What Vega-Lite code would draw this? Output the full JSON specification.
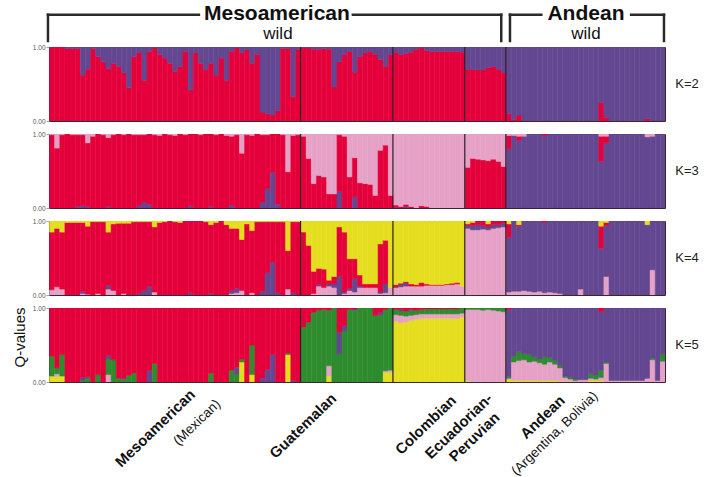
{
  "$schema": "https://vega.github.io/schema/vega-lite/v6.json",
  "padding": {"left": 11, "top": 3, "right": 5, "bottom": 0},
  "background": "white",
  "config": {
    "font": "Liberation Sans",
    "view": {"stroke": "#3a2530", "strokeWidth": 1}
  },
  "datasets": {
    "q": [
      {"i":0,"a2":1,"b3":0.99,"c3":0.01,"a4":0.07,"c4":0.78,"d4":0.15,"a5":0.08,"c5":0.27,"e5":0.65},
      {"i":1,"a2":1,"b3":0.81,"c3":0.19,"a4":0.11,"c4":0.79,"d4":0.1,"a5":0.07,"b5":0.04,"c5":0.08,"e5":0.81},
      {"i":2,"a2":1,"b3":0.99,"c3":0.01,"a4":0.08,"c4":0.77,"d4":0.15,"a5":0.08,"c5":0.29,"e5":0.63},
      {"i":3,"a2":0.98,"b2":0.02,"b3":1,"c4":0.98,"d4":0.02,"e5":1},
      {"i":4,"a2":0.98,"b2":0.02,"b3":0.99,"c3":0.01,"c4":0.98,"d4":0.02,"e5":1},
      {"i":5,"a2":0.98,"b2":0.02,"a3":0.02,"b3":0.97,"c3":0.01,"c4":0.98,"d4":0.02,"e5":1},
      {"i":6,"a2":0.62,"b2":0.38,"a3":0.03,"b3":0.96,"c3":0.01,"a4":0.02,"b4":0.03,"c4":0.93,"d4":0.02,"c5":0.02,"d5":0.04,"e5":0.94},
      {"i":7,"a2":0.7,"b2":0.3,"a3":0.02,"b3":0.86,"c3":0.12,"a4":0.01,"c4":0.92,"d4":0.07,"c5":0.05,"d5":0.02,"e5":0.93},
      {"i":8,"a2":0.98,"b2":0.02,"b3":0.97,"c3":0.03,"c4":0.99,"d4":0.01,"e5":1},
      {"i":9,"a2":0.87,"b2":0.13,"b3":1,"a4":0.02,"c4":0.97,"d4":0.01,"c5":0.1,"e5":0.9},
      {"i":10,"a2":0.8,"b2":0.2,"b3":0.99,"c3":0.01,"c4":0.99,"d4":0.01,"e5":1},
      {"i":11,"a2":0.71,"b2":0.29,"a3":0.02,"b3":0.93,"c3":0.05,"a4":0.08,"b4":0.05,"c4":0.72,"d4":0.15,"b5":0.1,"c5":0.21,"d5":0.05,"e5":0.64},
      {"i":12,"a2":0.78,"b2":0.22,"b3":0.99,"c3":0.01,"a4":0.06,"c4":0.9,"d4":0.04,"c5":0.3,"e5":0.7},
      {"i":13,"a2":0.74,"b2":0.26,"b3":1,"c4":0.97,"d4":0.03,"c5":0.05,"e5":0.95},
      {"i":14,"a2":0.65,"b2":0.35,"b3":0.99,"c3":0.01,"a4":0.02,"c4":0.95,"d4":0.03,"c5":0.03,"d5":0.02,"e5":0.95},
      {"i":15,"a2":0.45,"b2":0.55,"b3":1,"c4":0.97,"d4":0.03,"c5":0.09,"e5":0.91},
      {"i":16,"a2":0.87,"b2":0.13,"b3":0.99,"c3":0.01,"c4":0.99,"d4":0.01,"c5":0.12,"e5":0.88},
      {"i":17,"a2":0.92,"b2":0.08,"a3":0.03,"b3":0.96,"c3":0.01,"b4":0.02,"c4":0.97,"d4":0.01,"e5":1},
      {"i":18,"a2":0.55,"b2":0.45,"a3":0.08,"b3":0.91,"c3":0.01,"b4":0.06,"c4":0.93,"d4":0.01,"e5":1},
      {"i":19,"a2":0.94,"b2":0.06,"a3":0.05,"b3":0.95,"b4":0.12,"c4":0.87,"d4":0.01,"d5":0.16,"e5":0.84},
      {"i":20,"a2":0.99,"b2":0.01,"b3":0.99,"c3":0.01,"a4":0.04,"c4":0.88,"d4":0.08,"c5":0.25,"e5":0.75},
      {"i":21,"a2":0.9,"b2":0.1,"b3":0.98,"c3":0.02,"c4":0.98,"d4":0.02,"e5":1},
      {"i":22,"a2":0.85,"b2":0.15,"b3":1,"c4":0.99,"d4":0.01,"e5":1},
      {"i":23,"a2":0.78,"b2":0.22,"b3":0.99,"c3":0.01,"c4":1,"e5":1},
      {"i":24,"a2":0.67,"b2":0.33,"b3":0.98,"c3":0.02,"c4":0.99,"d4":0.01,"e5":1},
      {"i":25,"a2":0.74,"b2":0.26,"b3":1,"c4":0.98,"d4":0.02,"e5":1},
      {"i":26,"a2":0.94,"b2":0.06,"b3":0.99,"c3":0.01,"c4":1,"e5":1},
      {"i":27,"a2":0.42,"b2":0.58,"a3":0.03,"b3":0.97,"b4":0.03,"c4":0.97,"e5":1},
      {"i":28,"a2":0.92,"b2":0.08,"b3":1,"c4":1,"e5":1},
      {"i":29,"a2":0.78,"b2":0.22,"b3":0.99,"c3":0.01,"c4":1,"e5":1},
      {"i":30,"a2":0.69,"b2":0.31,"b3":1,"c4":0.99,"d4":0.01,"e5":1},
      {"i":31,"a2":0.78,"b2":0.22,"a3":0.02,"b3":0.98,"b4":0.02,"c4":0.93,"d4":0.05,"c5":0.12,"e5":0.88},
      {"i":32,"a2":0.62,"b2":0.38,"b3":0.99,"c3":0.01,"c4":0.98,"d4":0.02,"e5":1},
      {"i":33,"a2":0.85,"b2":0.15,"b3":1,"c4":1,"e5":1},
      {"i":34,"a2":0.55,"b2":0.45,"b3":0.98,"c3":0.02,"c4":0.95,"d4":0.05,"e5":1},
      {"i":35,"a2":0.94,"b2":0.06,"a3":0.04,"b3":0.93,"c3":0.03,"a4":0.02,"b4":0.04,"c4":0.84,"d4":0.1,"c5":0.16,"e5":0.84},
      {"i":36,"a2":0.99,"b2":0.01,"b3":0.99,"c3":0.01,"a4":0.03,"b4":0.06,"c4":0.81,"d4":0.1,"c5":0.1,"d5":0.1,"e5":0.8},
      {"i":37,"a2":0.92,"b2":0.08,"b3":0.74,"c3":0.26,"a4":0.06,"c4":0.69,"d4":0.25,"a5":0.27,"c5":0.04,"e5":0.69},
      {"i":38,"a2":0.96,"b2":0.04,"b3":0.99,"c3":0.01,"c4":0.96,"d4":0.04,"e5":1},
      {"i":39,"a2":0.78,"b2":0.22,"b3":0.98,"c3":0.02,"a4":0.03,"c4":0.84,"d4":0.13,"a5":0.1,"c5":0.4,"e5":0.5},
      {"i":40,"a2":0.9,"b2":0.1,"b3":1,"c4":0.99,"d4":0.01,"e5":1},
      {"i":41,"a2":0.12,"b2":0.88,"a3":0.08,"b3":0.91,"c3":0.01,"b4":0.05,"c4":0.94,"d4":0.01,"d5":0.05,"e5":0.95},
      {"i":42,"a2":0.1,"b2":0.9,"a3":0.26,"b3":0.73,"c3":0.01,"b4":0.3,"c4":0.69,"d4":0.01,"d5":0.17,"e5":0.83},
      {"i":43,"a2":0.08,"b2":0.92,"a3":0.48,"b3":0.52,"b4":0.44,"c4":0.55,"d4":0.01,"d5":0.37,"e5":0.63},
      {"i":44,"a2":0.14,"b2":0.86,"a3":0.05,"b3":0.95,"b4":0.03,"c4":0.96,"d4":0.01,"e5":1},
      {"i":45,"a2":0.98,"b2":0.02,"b3":0.99,"c3":0.01,"c4":0.99,"d4":0.01,"e5":1},
      {"i":46,"a2":0.98,"b2":0.02,"b3":0.49,"c3":0.51,"a4":0.08,"c4":0.52,"d4":0.4,"a5":0.37,"c5":0.02,"e5":0.61},
      {"i":47,"a2":0.33,"b2":0.67,"b3":0.98,"c3":0.02,"b4":0.03,"c4":0.96,"d4":0.01,"d5":0.02,"e5":0.98},
      {"i":48,"a2":0.97,"b2":0.03,"b3":0.99,"c3":0.01,"c4":0.99,"d4":0.01,"e5":1},
      {"i":49,"a2":0.99,"b2":0.01,"b3":0.97,"c3":0.03,"c4":0.85,"d4":0.15,"c5":0.74,"e5":0.26},
      {"i":50,"a2":0.99,"b2":0.01,"b3":0.67,"c3":0.33,"c4":0.67,"d4":0.33,"c5":0.81,"e5":0.19},
      {"i":51,"a2":0.97,"b2":0.03,"b3":0.33,"c3":0.67,"a4":0.02,"c4":0.3,"d4":0.68,"c5":0.94,"e5":0.06},
      {"i":52,"a2":0.97,"b2":0.03,"b3":0.44,"c3":0.56,"a4":0.12,"b4":0.02,"c4":0.22,"d4":0.64,"c5":0.97,"e5":0.03},
      {"i":53,"a2":0.98,"b2":0.02,"b3":0.42,"c3":0.58,"a4":0.1,"c4":0.25,"d4":0.65,"c5":0.98,"e5":0.02},
      {"i":54,"a2":0.97,"b2":0.03,"b3":0.19,"c3":0.81,"a4":0.12,"b4":0.03,"c4":0.05,"d4":0.8,"a5":0.08,"b5":0.14,"c5":0.75,"e5":0.03},
      {"i":55,"a2":0.46,"b2":0.54,"b3":0.19,"c3":0.81,"a4":0.1,"b4":0.05,"c4":0.1,"d4":0.75,"c5":1},
      {"i":56,"a2":0.8,"b2":0.2,"a3":0.22,"b3":0.77,"c3":0.01,"b4":0.25,"c4":0.67,"d4":0.08,"c5":0.38,"d5":0.29,"e5":0.33},
      {"i":57,"a2":0.9,"b2":0.1,"b3":0.97,"c3":0.03,"a4":0.02,"b4":0.02,"c4":0.81,"d4":0.15,"c5":0.69,"d5":0.07,"e5":0.24},
      {"i":58,"a2":0.94,"b2":0.06,"b3":0.42,"c3":0.58,"a4":0.06,"b4":0.03,"c4":0.4,"d4":0.51,"c5":0.98,"e5":0.02},
      {"i":59,"a2":0.66,"b2":0.34,"a3":0.15,"b3":0.53,"c3":0.32,"a4":0.04,"b4":0.18,"c4":0.27,"d4":0.51,"c5":0.97,"d5":0.02,"e5":0.01},
      {"i":60,"a2":0.87,"b2":0.13,"b3":0.34,"c3":0.66,"a4":0.1,"b4":0.02,"c4":0.15,"d4":0.73,"c5":1},
      {"i":61,"a2":0.92,"b2":0.08,"b3":0.33,"c3":0.67,"a4":0.1,"c4":0.05,"d4":0.85,"c5":1},
      {"i":62,"a2":0.94,"b2":0.06,"b3":0.32,"c3":0.68,"a4":0.1,"c4":0.05,"d4":0.85,"c5":1},
      {"i":63,"a2":0.9,"b2":0.1,"b3":0.17,"c3":0.83,"a4":0.1,"c4":0.05,"d4":0.85,"c5":0.9,"e5":0.1},
      {"i":64,"a2":0.83,"b2":0.17,"b3":0.78,"c3":0.22,"a4":0.02,"b4":0.02,"c4":0.65,"d4":0.31,"c5":0.9,"d5":0.04,"e5":0.06},
      {"i":65,"a2":0.74,"b2":0.26,"b3":0.85,"c3":0.15,"a4":0.03,"b4":0.12,"c4":0.59,"d4":0.26,"a5":0.13,"b5":0.02,"c5":0.83,"e5":0.02},
      {"i":66,"a2":0.9,"b2":0.1,"b3":0.17,"c3":0.83,"a4":0.1,"d4":0.9,"a5":0.13,"b5":0.03,"c5":0.84},
      {"i":67,"a2":0.93,"b2":0.07,"a3":0.01,"b3":0.03,"c3":0.96,"a4":0.1,"b4":0.01,"c4":0.03,"d4":0.86,"a5":0.82,"b5":0.09,"c5":0.07,"e5":0.02},
      {"i":68,"a2":0.9,"b2":0.1,"b3":0.02,"c3":0.98,"a4":0.11,"b4":0.03,"c4":0.02,"d4":0.84,"a5":0.8,"b5":0.1,"c5":0.06,"d5":0.02,"e5":0.02},
      {"i":69,"a2":0.91,"b2":0.09,"a3":0.02,"b3":0.03,"c3":0.95,"a4":0.12,"b4":0.04,"c4":0.02,"d4":0.82,"a5":0.81,"b5":0.08,"c5":0.07,"e5":0.04},
      {"i":70,"a2":0.93,"b2":0.07,"b3":0.02,"c3":0.98,"a4":0.12,"c4":0.03,"d4":0.85,"a5":0.83,"b5":0.07,"c5":0.07,"d5":0.01,"e5":0.02},
      {"i":71,"a2":0.97,"b2":0.03,"c3":1,"a4":0.12,"c4":0.02,"d4":0.86,"a5":0.85,"b5":0.06,"c5":0.06,"e5":0.03},
      {"i":72,"a2":0.99,"b2":0.01,"b3":0.03,"c3":0.97,"a4":0.12,"c4":0.05,"d4":0.83,"a5":0.86,"b5":0.06,"c5":0.06,"e5":0.02},
      {"i":73,"a2":0.95,"b2":0.05,"b3":0.02,"c3":0.98,"a4":0.13,"c4":0.02,"d4":0.85,"a5":0.86,"b5":0.06,"c5":0.07,"e5":0.01},
      {"i":74,"a2":0.94,"b2":0.06,"c3":1,"a4":0.13,"c4":0.01,"d4":0.86,"a5":0.86,"b5":0.06,"c5":0.07,"e5":0.01},
      {"i":75,"a2":0.94,"b2":0.06,"c3":1,"a4":0.13,"c4":0.01,"d4":0.86,"a5":0.86,"b5":0.06,"c5":0.07,"e5":0.01},
      {"i":76,"a2":0.94,"b2":0.06,"c3":1,"a4":0.13,"c4":0.01,"d4":0.86,"a5":0.86,"b5":0.06,"c5":0.07,"e5":0.01},
      {"i":77,"a2":0.94,"b2":0.06,"c3":1,"a4":0.14,"c4":0.01,"d4":0.85,"a5":0.86,"b5":0.06,"c5":0.07,"e5":0.01},
      {"i":78,"a2":0.94,"b2":0.06,"c3":1,"a4":0.14,"c4":0.02,"d4":0.84,"a5":0.86,"b5":0.06,"c5":0.07,"e5":0.01},
      {"i":79,"a2":0.94,"b2":0.06,"c3":1,"a4":0.15,"c4":0.02,"d4":0.83,"a5":0.86,"b5":0.06,"c5":0.07,"e5":0.01},
      {"i":80,"a2":0.93,"b2":0.07,"c3":1,"a4":0.12,"d4":0.88,"a5":0.88,"b5":0.05,"c5":0.07},
      {"i":81,"a2":0.7,"b2":0.3,"b3":0.55,"c3":0.45,"a4":0.9,"b4":0.04,"c4":0.02,"d4":0.04,"a5":0.02,"b5":0.96,"c5":0.02},
      {"i":82,"a2":0.7,"b2":0.3,"b3":0.67,"c3":0.33,"a4":0.88,"b4":0.06,"c4":0.04,"d4":0.02,"b5":0.98,"c5":0.02},
      {"i":83,"a2":0.69,"b2":0.31,"b3":0.66,"c3":0.34,"a4":0.88,"b4":0.07,"c4":0.05,"b5":0.98,"c5":0.02},
      {"i":84,"a2":0.69,"b2":0.31,"b3":0.65,"c3":0.35,"a4":0.89,"b4":0.05,"c4":0.06,"b5":0.97,"c5":0.03},
      {"i":85,"a2":0.72,"b2":0.28,"b3":0.64,"c3":0.36,"a4":0.88,"b4":0.04,"c4":0.04,"d4":0.04,"b5":0.98,"c5":0.02},
      {"i":86,"a2":0.74,"b2":0.26,"b3":0.66,"c3":0.34,"a4":0.9,"b4":0.05,"c4":0.05,"b5":0.97,"c5":0.03},
      {"i":87,"a2":0.7,"b2":0.3,"b3":0.63,"c3":0.37,"a4":0.91,"b4":0.04,"c4":0.05,"b5":0.96,"c5":0.04},
      {"i":88,"a2":0.66,"b2":0.34,"b3":0.56,"c3":0.44,"a4":0.92,"b4":0.05,"c4":0.03,"b5":0.95,"c5":0.05},
      {"i":89,"a2":0.1,"b2":0.9,"a3":0.8,"b3":0.18,"c3":0.02,"a4":0.04,"b4":0.74,"c4":0.18,"d4":0.04,"a5":0.03,"b5":0.02,"c5":0.03,"d5":0.9,"e5":0.02},
      {"i":90,"a2":0.02,"b2":0.98,"a3":0.98,"c3":0.02,"a4":0.05,"b4":0.95,"a5":0.02,"b5":0.25,"c5":0.08,"d5":0.65},
      {"i":91,"a2":0.08,"b2":0.92,"a3":0.91,"b3":0.06,"c3":0.03,"a4":0.05,"b4":0.88,"c4":0.02,"d4":0.05,"a5":0.02,"b5":0.27,"c5":0.12,"d5":0.59},
      {"i":92,"b2":1,"a3":0.97,"c3":0.03,"a4":0.06,"b4":0.94,"a5":0.02,"b5":0.28,"c5":0.08,"d5":0.62},
      {"i":93,"b2":1,"a3":1,"a4":0.05,"b4":0.95,"a5":0.02,"b5":0.25,"c5":0.1,"d5":0.63},
      {"i":94,"b2":1,"a3":1,"a4":0.04,"b4":0.96,"a5":0.02,"b5":0.26,"c5":0.06,"d5":0.66},
      {"i":95,"b2":1,"a3":1,"a4":0.05,"b4":0.95,"a5":0.02,"b5":0.24,"c5":0.05,"d5":0.69},
      {"i":96,"b2":1,"a3":0.98,"b3":0.02,"a4":0.03,"b4":0.95,"c4":0.02,"a5":0.02,"b5":0.22,"c5":0.1,"d5":0.66},
      {"i":97,"b2":1,"a3":1,"a4":0.04,"b4":0.96,"a5":0.02,"b5":0.25,"c5":0.06,"d5":0.67},
      {"i":98,"b2":1,"a3":1,"a4":0.03,"b4":0.97,"a5":0.02,"b5":0.22,"c5":0.05,"d5":0.71},
      {"i":99,"b2":1,"a3":1,"a4":0.02,"b4":0.98,"a5":0.01,"b5":0.18,"c5":0.03,"d5":0.78},
      {"i":100,"b2":1,"a3":1,"b4":1,"a5":0.01,"b5":0.05,"c5":0.02,"d5":0.92},
      {"i":101,"b2":1,"a3":1,"b4":1,"a5":0.01,"b5":0.03,"c5":0.02,"d5":0.94},
      {"i":102,"b2":1,"a3":1,"b4":1,"b5":0.02,"c5":0.02,"d5":0.96},
      {"i":103,"b2":1,"a3":1,"a4":0.08,"b4":0.92,"b5":0.03,"d5":0.97},
      {"i":104,"b2":1,"a3":1,"b4":1,"b5":0.03,"d5":0.97},
      {"i":105,"b2":1,"a3":1,"b4":1,"a5":0.02,"b5":0.03,"c5":0.06,"d5":0.89},
      {"i":106,"b2":1,"a3":1,"b4":1,"a5":0.02,"b5":0.02,"c5":0.05,"d5":0.91},
      {"i":107,"a2":0.25,"b2":0.75,"a3":0.63,"b3":0.34,"c3":0.03,"b4":0.63,"c4":0.3,"d4":0.07,"a5":0.02,"b5":0.04,"c5":0.1,"d5":0.79,"e5":0.05},
      {"i":108,"a2":0.05,"b2":0.95,"a3":0.88,"b3":0.09,"c3":0.03,"a4":0.25,"b4":0.69,"c4":0.04,"d4":0.02,"b5":0.25,"c5":0.02,"d5":0.73},
      {"i":109,"b2":1,"a3":1,"b4":1,"b5":0.02,"d5":0.98},
      {"i":110,"b2":1,"a3":1,"b4":1,"b5":0.02,"d5":0.98},
      {"i":111,"b2":1,"a3":1,"b4":1,"b5":0.02,"d5":0.98},
      {"i":112,"b2":1,"a3":1,"b4":1,"b5":0.02,"d5":0.98},
      {"i":113,"b2":1,"a3":1,"b4":1,"b5":0.02,"d5":0.98},
      {"i":114,"b2":1,"a3":1,"b4":1,"b5":0.02,"d5":0.98},
      {"i":115,"b2":1,"a3":1,"b4":1,"b5":0.02,"d5":0.98},
      {"i":116,"a2":0.03,"b2":0.97,"a3":0.96,"c3":0.04,"b4":0.95,"d4":0.05,"b5":0.05,"d5":0.95},
      {"i":117,"b2":1,"a3":0.97,"c3":0.03,"a4":0.34,"b4":0.66,"b5":0.3,"c5":0.02,"d5":0.68},
      {"i":118,"b2":1,"a3":1,"b4":1,"b5":0.02,"d5":0.98},
      {"i":119,"b2":1,"a3":1,"b4":1,"b5":0.28,"c5":0.1,"d5":0.62}
    ],
    "grp": [{"b": 49}, {"b": 67}, {"b": 81}, {"b": 89}],
    "hseg": [
      {"x1": -0.2, "x2": 29.2, "y1": 10.7, "y2": 10.7},
      {"x1": 59.2, "x2": 88.1, "y1": 10.7, "y2": 10.7},
      {"x1": -0.2, "x2": -0.2, "y1": 10.7, "y2": 37},
      {"x1": 88.1, "x2": 88.1, "y1": 10.7, "y2": 37},
      {"x1": 89.8, "x2": 95.9, "y1": 10.7, "y2": 10.7},
      {"x1": 113.4, "x2": 119.8, "y1": 10.7, "y2": 10.7},
      {"x1": 89.8, "x2": 89.8, "y1": 10.7, "y2": 37},
      {"x1": 119.8, "x2": 119.8, "y1": 10.7, "y2": 37}
    ],
    "htxt": [
      {"t": "Mesoamerican", "x": 44.4, "y": 16.3, "w": "b"},
      {"t": "wild", "x": 44.6, "y": 34.5, "w": "n"},
      {"t": "Andean", "x": 104.6, "y": 16.3, "w": "b"},
      {"t": "wild", "x": 104.6, "y": 34.5, "w": "n"}
    ],
    "ftr": [
      {"t": "Mesoamerican", "x": 28.0, "y": 3, "w": "b"},
      {"t": "(Mexican)", "x": 33.0, "y": 13, "w": "n"},
      {"t": "Guatemalan", "x": 55.5, "y": 7, "w": "b"},
      {"t": "Colombian", "x": 78.8, "y": 9, "w": "b"},
      {"t": "Ecuadorian-", "x": 85.9, "y": 7, "w": "b"},
      {"t": "Peruvian", "x": 87.3, "y": 26, "w": "b"},
      {"t": "Andean", "x": 100.0, "y": 9, "w": "b"},
      {"t": "(Argentina, Bolivia)", "x": 106.5, "y": 5, "w": "n"}
    ]
  },
  "spacing": 0,
  "resolve": {"scale": {"x": "independent", "y": "independent"}},
  "vconcat": [
    {
      "width": 616,
      "height": 37,
      "view": {"stroke": null},
      "layer": [
        {
          "data": {"name": "hseg"},
          "mark": {"type": "rule", "color": "#2a2a2a", "strokeWidth": 2.5, "strokeCap": "square"},
          "encoding": {
            "x": {"field": "x1", "type": "quantitative", "scale": {"domain": [0, 120], "nice": false, "zero": false}, "axis": null},
            "x2": {"field": "x2"},
            "y": {"field": "y1", "type": "quantitative", "scale": {"domain": [0, 37], "nice": false, "reverse": true}, "axis": null},
            "y2": {"field": "y2"}
          }
        },
        {
          "data": {"name": "htxt"},
          "transform": [{"filter": "datum.w == 'b'"}],
          "mark": {"type": "text", "fontSize": 21, "fontWeight": "bold", "baseline": "alphabetic", "align": "center", "color": "#111"},
          "encoding": {
            "x": {"field": "x", "type": "quantitative"},
            "y": {"field": "y", "type": "quantitative"},
            "text": {"field": "t"}
          }
        },
        {
          "data": {"name": "htxt"},
          "transform": [{"filter": "datum.w == 'n'"}],
          "mark": {"type": "text", "fontSize": 17, "baseline": "alphabetic", "align": "center", "color": "#111"},
          "encoding": {
            "x": {"field": "x", "type": "quantitative"},
            "y": {"field": "y", "type": "quantitative"},
            "text": {"field": "t"}
          }
        }
      ]
    },
    {
      "spacing": 13,
      "bounds": "flush",
      "vconcat": [
        {
          "width": 616, "height": 74,
          "layer": [
            {
              "data": {"name": "q"},
              "transform": [{"fold": ["a2", "b2"], "as": ["c", "v"]}, {"filter": "datum.v > 0"}],
              "mark": {"type": "bar", "binSpacing": 0, "strokeWidth": 0.5, "clip": true},
              "encoding": {
                "x": {"field": "i", "type": "quantitative", "bin": {"step": 1, "extent": [0, 120]}, "scale": {"domain": [0, 120], "nice": false, "zero": false}, "axis": null},
                "y": {"field": "v", "type": "quantitative", "stack": "zero", "scale": {"domain": [0, 1], "nice": false},
                      "axis": {"values": [0, 0.2, 0.4, 0.6, 0.8, 1], "format": ".2f", "labelFontSize": 6.5, "labelColor": "#555", "tickSize": 3, "tickColor": "#888", "tickWidth": 0.8, "domain": false, "grid": false, "title": null, "labelPadding": 1}},
                "color": {"field": "c", "type": "nominal", "legend": null, "scale": {"domain": ["a2","b2","a3","b3","c3","a4","b4","c4","d4","a5","b5","c5","d5","e5"], "range": ["#E4003A","#634791","#634791","#E4003A","#E6A2C6","#E6A2C6","#634791","#E4003A","#E4DE1E","#E4DE1E","#E6A2C6","#2E8B2E","#634791","#E4003A"]}},
                "stroke": {"field": "c", "type": "nominal", "legend": null, "scale": {"domain": ["a2","b2","a3","b3","c3","a4","b4","c4","d4","a5","b5","c5","d5","e5"], "range": ["#E4003A","#634791","#634791","#E4003A","#E6A2C6","#E6A2C6","#634791","#E4003A","#E4DE1E","#E4DE1E","#E6A2C6","#2E8B2E","#634791","#E4003A"]}},
                "order": {"field": "c", "sort": "ascending"}
              }
            },
            {
              "data": {"name": "grp"},
              "mark": {"type": "rule", "color": "#2b1d26", "strokeWidth": 1.2},
              "encoding": {"x": {"field": "b", "type": "quantitative"}}
            },
            {
              "data": {"values": [{"k": "K=2"}]},
              "mark": {"type": "text", "fontSize": 13, "color": "#222"},
              "encoding": {"text": {"field": "k"}, "x": {"datum": 124.3}, "y": {"datum": 0.5}}
            }
          ]
        },
        {
          "width": 616, "height": 74,
          "layer": [
            {
              "data": {"name": "q"},
              "transform": [{"fold": ["a3", "b3", "c3"], "as": ["c", "v"]}, {"filter": "datum.v > 0"}],
              "mark": {"type": "bar", "binSpacing": 0, "strokeWidth": 0.5, "clip": true},
              "encoding": {
                "x": {"field": "i", "type": "quantitative", "bin": {"step": 1, "extent": [0, 120]}, "scale": {"domain": [0, 120], "nice": false, "zero": false}, "axis": null},
                "y": {"field": "v", "type": "quantitative", "stack": "zero", "scale": {"domain": [0, 1], "nice": false},
                      "axis": {"values": [0, 0.2, 0.4, 0.6, 0.8, 1], "format": ".2f", "labelFontSize": 6.5, "labelColor": "#555", "tickSize": 3, "tickColor": "#888", "tickWidth": 0.8, "domain": false, "grid": false, "title": null, "labelPadding": 1}},
                "color": {"field": "c", "type": "nominal", "legend": null, "scale": {"domain": ["a2","b2","a3","b3","c3","a4","b4","c4","d4","a5","b5","c5","d5","e5"], "range": ["#E4003A","#634791","#634791","#E4003A","#E6A2C6","#E6A2C6","#634791","#E4003A","#E4DE1E","#E4DE1E","#E6A2C6","#2E8B2E","#634791","#E4003A"]}},
                "stroke": {"field": "c", "type": "nominal", "legend": null, "scale": {"domain": ["a2","b2","a3","b3","c3","a4","b4","c4","d4","a5","b5","c5","d5","e5"], "range": ["#E4003A","#634791","#634791","#E4003A","#E6A2C6","#E6A2C6","#634791","#E4003A","#E4DE1E","#E4DE1E","#E6A2C6","#2E8B2E","#634791","#E4003A"]}},
                "order": {"field": "c", "sort": "ascending"}
              }
            },
            {
              "data": {"name": "grp"},
              "mark": {"type": "rule", "color": "#2b1d26", "strokeWidth": 1.2},
              "encoding": {"x": {"field": "b", "type": "quantitative"}}
            },
            {
              "data": {"values": [{"k": "K=3"}]},
              "mark": {"type": "text", "fontSize": 13, "color": "#222"},
              "encoding": {"text": {"field": "k"}, "x": {"datum": 124.3}, "y": {"datum": 0.5}}
            }
          ]
        },
        {
          "width": 616, "height": 74,
          "layer": [
            {
              "data": {"name": "q"},
              "transform": [{"fold": ["a4", "b4", "c4", "d4"], "as": ["c", "v"]}, {"filter": "datum.v > 0"}],
              "mark": {"type": "bar", "binSpacing": 0, "strokeWidth": 0.5, "clip": true},
              "encoding": {
                "x": {"field": "i", "type": "quantitative", "bin": {"step": 1, "extent": [0, 120]}, "scale": {"domain": [0, 120], "nice": false, "zero": false}, "axis": null},
                "y": {"field": "v", "type": "quantitative", "stack": "zero", "scale": {"domain": [0, 1], "nice": false},
                      "axis": {"values": [0, 0.2, 0.4, 0.6, 0.8, 1], "format": ".2f", "labelFontSize": 6.5, "labelColor": "#555", "tickSize": 3, "tickColor": "#888", "tickWidth": 0.8, "domain": false, "grid": false, "title": null, "labelPadding": 1}},
                "color": {"field": "c", "type": "nominal", "legend": null, "scale": {"domain": ["a2","b2","a3","b3","c3","a4","b4","c4","d4","a5","b5","c5","d5","e5"], "range": ["#E4003A","#634791","#634791","#E4003A","#E6A2C6","#E6A2C6","#634791","#E4003A","#E4DE1E","#E4DE1E","#E6A2C6","#2E8B2E","#634791","#E4003A"]}},
                "stroke": {"field": "c", "type": "nominal", "legend": null, "scale": {"domain": ["a2","b2","a3","b3","c3","a4","b4","c4","d4","a5","b5","c5","d5","e5"], "range": ["#E4003A","#634791","#634791","#E4003A","#E6A2C6","#E6A2C6","#634791","#E4003A","#E4DE1E","#E4DE1E","#E6A2C6","#2E8B2E","#634791","#E4003A"]}},
                "order": {"field": "c", "sort": "ascending"}
              }
            },
            {
              "data": {"name": "grp"},
              "mark": {"type": "rule", "color": "#2b1d26", "strokeWidth": 1.2},
              "encoding": {"x": {"field": "b", "type": "quantitative"}}
            },
            {
              "data": {"values": [{"k": "K=4"}]},
              "mark": {"type": "text", "fontSize": 13, "color": "#222"},
              "encoding": {"text": {"field": "k"}, "x": {"datum": 124.3}, "y": {"datum": 0.5}}
            }
          ]
        },
        {
          "width": 616, "height": 74,
          "layer": [
            {
              "data": {"name": "q"},
              "transform": [{"fold": ["a5", "b5", "c5", "d5", "e5"], "as": ["c", "v"]}, {"filter": "datum.v > 0"}],
              "mark": {"type": "bar", "binSpacing": 0, "strokeWidth": 0.5, "clip": true},
              "encoding": {
                "x": {"field": "i", "type": "quantitative", "bin": {"step": 1, "extent": [0, 120]}, "scale": {"domain": [0, 120], "nice": false, "zero": false}, "axis": null},
                "y": {"field": "v", "type": "quantitative", "stack": "zero", "scale": {"domain": [0, 1], "nice": false},
                      "axis": {"values": [0, 0.2, 0.4, 0.6, 0.8, 1], "format": ".2f", "labelFontSize": 6.5, "labelColor": "#555", "tickSize": 3, "tickColor": "#888", "tickWidth": 0.8, "domain": false, "grid": false, "labelPadding": 1,
                               "title": "Q-values", "titleFontSize": 15, "titleFontWeight": "normal", "titleColor": "#111", "titlePadding": 5, "titleY": 29}},
                "color": {"field": "c", "type": "nominal", "legend": null, "scale": {"domain": ["a2","b2","a3","b3","c3","a4","b4","c4","d4","a5","b5","c5","d5","e5"], "range": ["#E4003A","#634791","#634791","#E4003A","#E6A2C6","#E6A2C6","#634791","#E4003A","#E4DE1E","#E4DE1E","#E6A2C6","#2E8B2E","#634791","#E4003A"]}},
                "stroke": {"field": "c", "type": "nominal", "legend": null, "scale": {"domain": ["a2","b2","a3","b3","c3","a4","b4","c4","d4","a5","b5","c5","d5","e5"], "range": ["#E4003A","#634791","#634791","#E4003A","#E6A2C6","#E6A2C6","#634791","#E4003A","#E4DE1E","#E4DE1E","#E6A2C6","#2E8B2E","#634791","#E4003A"]}},
                "order": {"field": "c", "sort": "ascending"}
              }
            },
            {
              "data": {"name": "grp"},
              "mark": {"type": "rule", "color": "#2b1d26", "strokeWidth": 1.2},
              "encoding": {"x": {"field": "b", "type": "quantitative"}}
            },
            {
              "data": {"values": [{"k": "K=5"}]},
              "mark": {"type": "text", "fontSize": 13, "color": "#222"},
              "encoding": {"text": {"field": "k"}, "x": {"datum": 124.3}, "y": {"datum": 0.5}}
            }
          ]
        }
      ]
    },
    {
      "width": 616,
      "height": 86,
      "view": {"stroke": null},
      "data": {"name": "ftr"},
      "layer": [
        {
          "transform": [{"filter": "datum.w == 'b'"}],
          "mark": {"type": "text", "fontSize": 15, "fontWeight": "bold", "angle": 316, "align": "right", "baseline": "middle", "color": "#111"},
          "encoding": {
            "x": {"field": "x", "type": "quantitative", "scale": {"domain": [0, 120], "nice": false, "zero": false}, "axis": null},
            "y": {"field": "y", "type": "quantitative", "scale": {"domain": [0, 86], "nice": false, "reverse": true}, "axis": null},
            "text": {"field": "t"}
          }
        },
        {
          "transform": [{"filter": "datum.w == 'n'"}],
          "mark": {"type": "text", "fontSize": 13.5, "angle": 316, "align": "right", "baseline": "middle", "color": "#111"},
          "encoding": {
            "x": {"field": "x", "type": "quantitative"},
            "y": {"field": "y", "type": "quantitative"},
            "text": {"field": "t"}
          }
        }
      ]
    }
  ]
}
